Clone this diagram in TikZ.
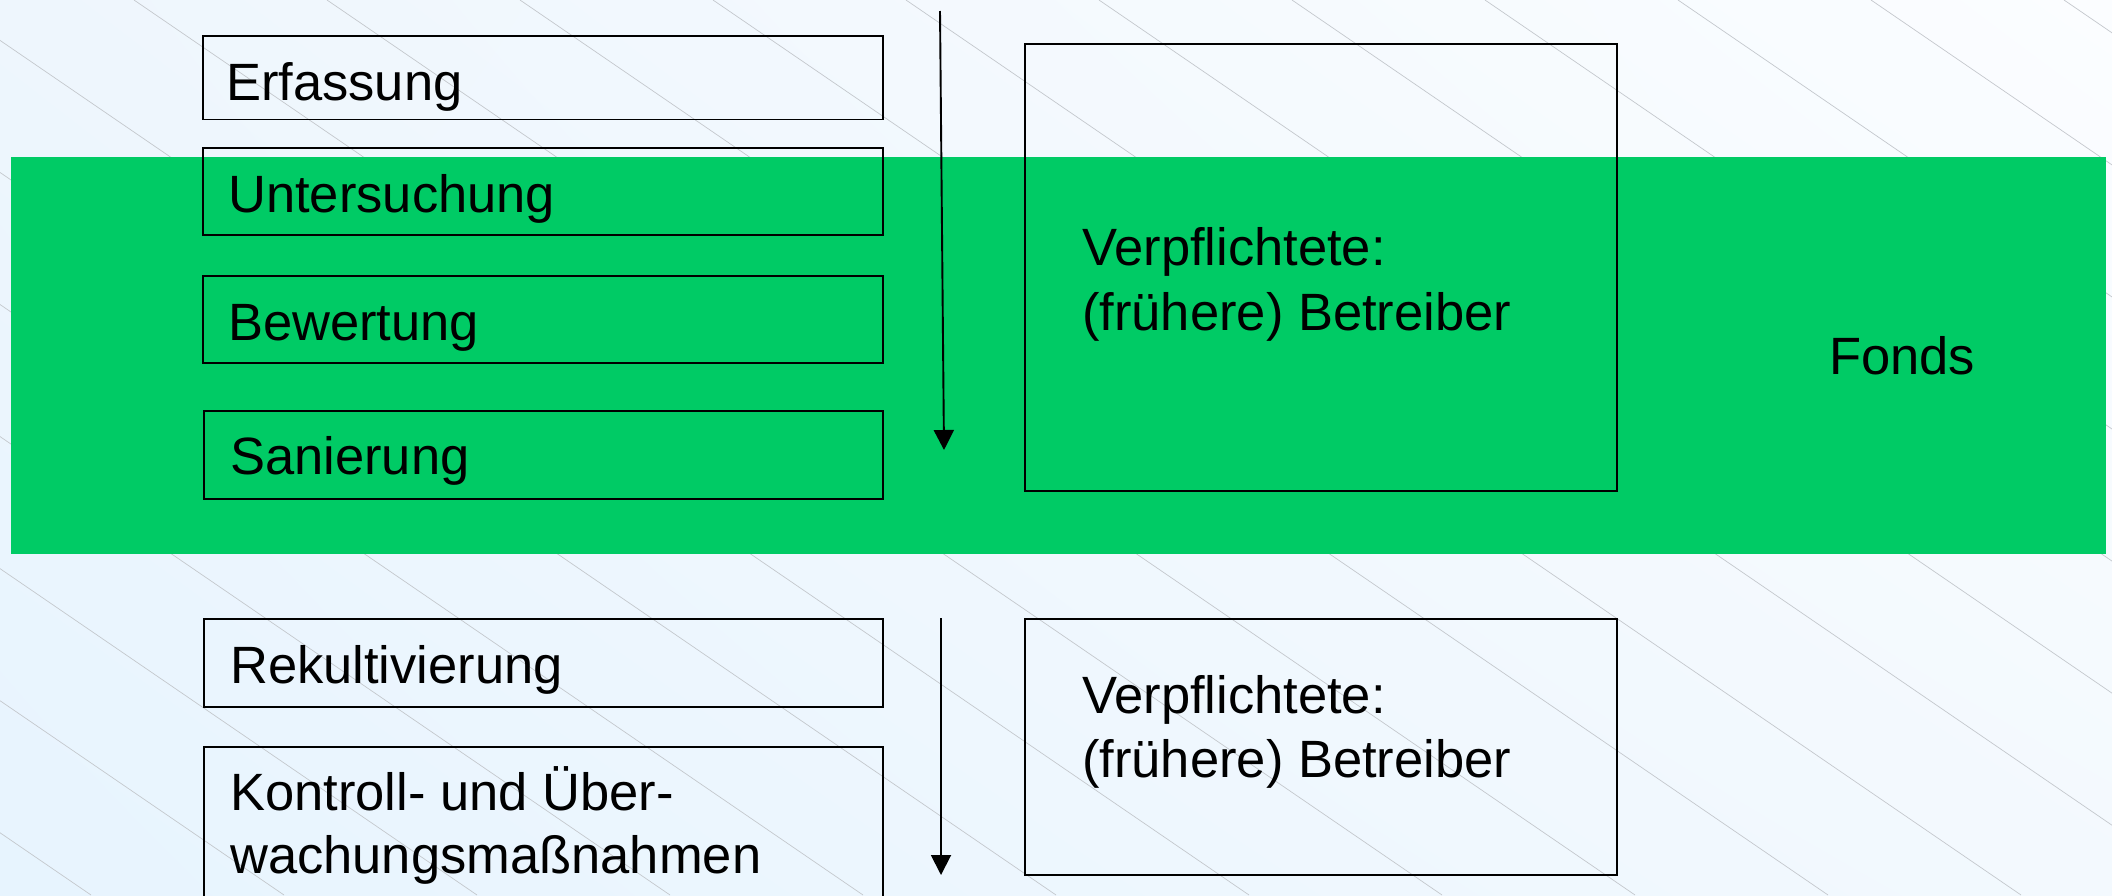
\documentclass[tikz,border=0pt]{standalone}
\usepackage{fontspec}
\setmainfont{Liberation Sans}
\usetikzlibrary{arrows.meta,shadings}

\definecolor{bandgreen}{RGB}{0,203,101}
\definecolor{hatch}{RGB}{196,200,205}
\definecolor{bgUL}{RGB}{238,246,253}
\definecolor{bgLL}{RGB}{231,244,254}
\definecolor{bgUR}{RGB}{251,253,255}
\definecolor{bgLR}{RGB}{243,249,254}

\begin{document}
\begin{tikzpicture}[x=1pt,y=-1pt,
  stepbox/.style={draw=black,line width=1.6pt,inner sep=0pt,anchor=north west,
                  minimum width=680pt},
  dutybox/.style={draw=black,line width=1.6pt,inner sep=0pt,anchor=north west,
                  minimum width=592pt},
  txt/.style={inner sep=0pt,anchor=base west,font=\fontsize{52.5}{63}\selectfont},
  flow/.style={line width=1.9pt,-{Triangle[length=20pt,width=20pt]}}]
\useasboundingbox (0,0) rectangle (2112,895);
\begin{scope}
\clip (0,0) rectangle (2112,895);
% light background with fine diagonal hatching
\shade[upper left=bgUL,upper right=bgUR,lower left=bgLL,lower right=bgLR]
  (0,0) rectangle (2112,895);
\foreach \k in {-7,...,10}
  \draw[hatch,line width=0.7pt] ({134+193*\k},0) -- ({1442+193*\k},895);
% band of the fund
\fill[bandgreen] (10.8,156.5) rectangle (2106,554);

% process steps
\node[stepbox,minimum height=83.5pt] (erf) at (202,35) {};
\node[stepbox,minimum height=87pt]   (unt) at (202,147) {};
\node[stepbox,minimum height=87pt]   (bew) at (202,275) {};
\node[stepbox,minimum height=88pt,minimum width=679pt] (san) at (203,410) {};
\node[stepbox,minimum height=88pt,minimum width=679pt] (rek) at (203,618) {};
\node[stepbox,minimum height=170pt,minimum width=679pt] (kon) at (203,746) {};

\node[txt] (erf-t) at (226,100) {Erfassung};
\node[txt] (unt-t) at (228,212) {Untersuchung};
\node[txt] (bew-t) at (228,340) {Bewertung};
\node[txt] (san-t) at (230,474) {Sanierung};
\node[txt] (rek-t) at (230,683) {Rekultivierung};
\node[txt] (kon-t1) at (230,810.5) {Kontroll- und Über-};
\node[txt] (kon-t2) at (230,873) {wachungsmaßnahmen};

% obligated parties
\node[dutybox,minimum height=447pt] (duty1) at (1024,43) {};
\node[dutybox,minimum height=256pt] (duty2) at (1024,618) {};
\node[txt] (duty1-a) at (1082,265) {Verpflichtete:};
\node[txt] (duty1-b) at (1082,330) {(frühere) Betreiber};
\node[txt] (duty2-a) at (1082,713.5) {Verpflichtete:};
\node[txt] (duty2-b) at (1082,777) {(frühere) Betreiber};

\node[txt] (fonds) at (1829,374) {Fonds};

% sequence arrows
\coordinate (up-start) at (940,11);
\coordinate (up-end) at (944,450);
\coordinate (lo-start) at (941,618);
\coordinate (lo-end) at (941,875);
\draw[flow] (up-start) -- (up-end);
\draw[flow] (lo-start) -- (lo-end);
\end{scope}
\end{tikzpicture}
\end{document}
